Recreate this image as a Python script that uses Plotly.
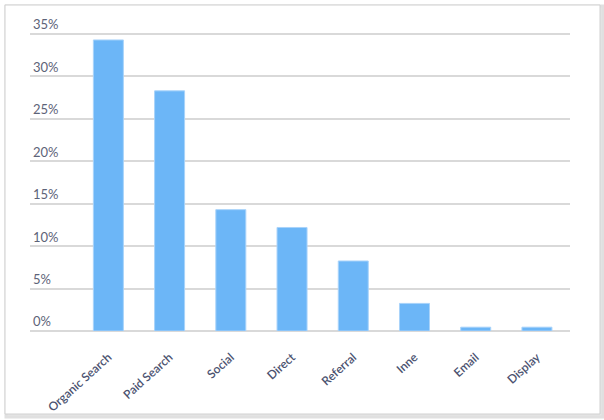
import plotly.graph_objects as go

categories = ["Organic Search", "Paid Search", "Social", "Direct", "Referral", "Inne", "Email", "Display"]
shares = [34.3, 28.3, 14.3, 12.2, 8.25, 3.25, 0.45, 0.45]
y_ticks = [0, 5, 10, 15, 20, 25, 30, 35]
y_tick_labels = ["0%", "5%", "10%", "15%", "20%", "25%", "30%", "35%"]

W, H = 604, 420
L, R, T, B = 30, 34, 13, 89
pw, ph = W - L - R, H - T - B
Y_MAX = 35 * ph / (331 - 34)

def px_x(p):
    return (p - L) / pw

def px_y(p):
    return (H - B - p) / ph

fig = go.Figure()
fig.add_trace(go.Bar(
    x=list(range(len(categories))),
    y=shares,
    marker=dict(color="#6cb6f7", line=dict(color="#a9d3fa", width=1)),
    hoverinfo="x+y",
))

# card frame with soft shadow
fig.add_shape(type="rect", xref="paper", yref="paper", layer="below",
              x0=px_x(6), x1=px_x(603), y0=px_y(417), y1=px_y(6),
              line=dict(color="#e0e0e0", width=3), fillcolor="#e6e6e6")
fig.add_shape(type="rect", xref="paper", yref="paper", layer="below",
              x0=px_x(5), x1=px_x(600), y0=px_y(414), y1=px_y(5),
              line=dict(color="#d0d0d0", width=1), fillcolor="white")

fig.update_layout(
    width=W, height=H,
    margin=dict(l=L, r=R, t=T, b=B, pad=0, autoexpand=False),
    paper_bgcolor="white", plot_bgcolor="rgba(0,0,0,0)",
    bargap=0.51,
    showlegend=False,
    font=dict(family="Lato, 'Open Sans', sans-serif", color="#5d6378"),
    xaxis=dict(
        range=[-1.28, 7.54], automargin=False,
        tickmode="array", tickvals=list(range(len(categories))), ticktext=categories,
        tickangle=-42, tickfont=dict(size=12, color="#4b5270", family="Lato", weight=600),
        ticklabelstandoff=16,
        showgrid=False, zeroline=False, showline=False, ticks="",
        fixedrange=True,
    ),
    yaxis=dict(
        range=[0, Y_MAX], automargin=False,
        tickmode="array", tickvals=y_ticks, ticktext=y_tick_labels,
        ticklabelposition="inside top",
        tickfont=dict(size=13, color="#5d6378"),
        showgrid=True, gridcolor="#d9d9d9", gridwidth=2,
        zeroline=True, zerolinecolor="#d9d9d9", zerolinewidth=2,
        showline=False, ticks="",
        fixedrange=True,
    ),
)

fig.write_html("out.html", config={"displayModeBar": False},
               post_script="document.body.style.margin='0';")
